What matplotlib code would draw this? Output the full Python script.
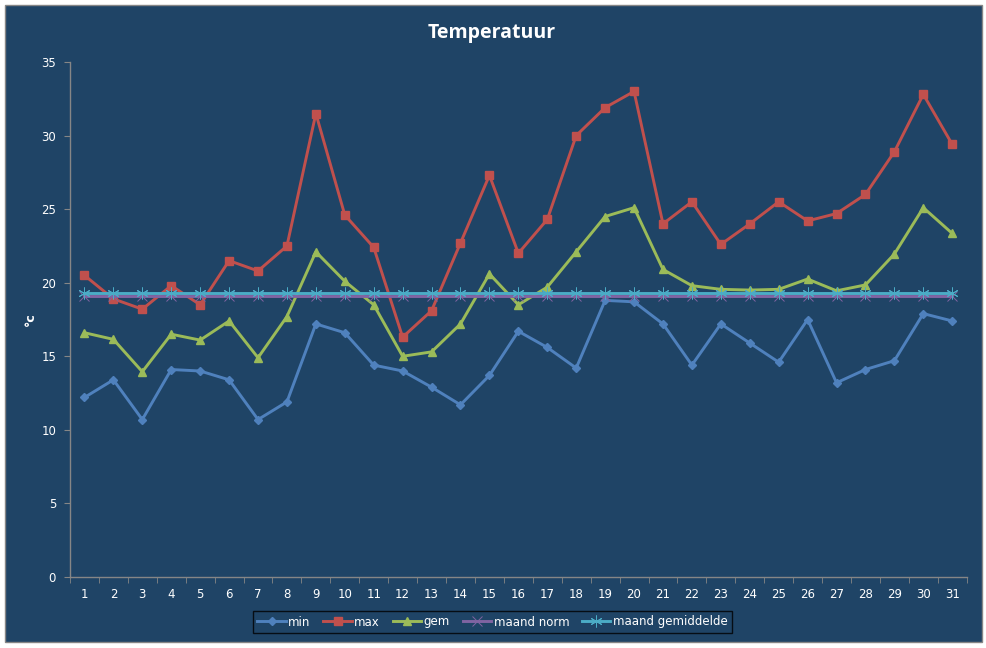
import numpy as np
import matplotlib
matplotlib.use("Agg")
import matplotlib.pyplot as plt
from matplotlib.patches import Rectangle

# data
days = list(range(1, 32))
t_min = [12.2, 13.4, 10.7, 14.1, 14.0, 13.4, 10.7, 11.9, 17.2, 16.6,
         14.4, 14.0, 12.9, 11.7, 13.7, 16.7, 15.6, 14.2, 18.8, 18.7,
         17.2, 14.4, 17.2, 15.9, 14.6, 17.5, 13.2, 14.1, 14.7, 17.9, 17.4]
t_max = [20.5, 18.9, 18.2, 19.8, 18.5, 21.5, 20.8, 22.5, 31.5, 24.6,
         22.4, 16.3, 18.1, 22.7, 27.3, 22.0, 24.3, 30.0, 31.9, 33.0,
         24.0, 25.5, 22.6, 24.0, 25.5, 24.2, 24.7, 26.0, 28.9, 32.8, 29.4]
t_gem = [16.6, 16.15, 13.95, 16.5, 16.1, 17.4, 14.9, 17.7, 22.1, 20.1,
         18.5, 15.0, 15.3, 17.2, 20.6, 18.5, 19.7, 22.1, 24.5, 25.1,
         20.9, 19.8, 19.55, 19.5, 19.55, 20.25, 19.45, 19.85, 21.95, 25.1, 23.35]
maand_norm = [19.1] * 31
maand_gem = [19.3] * 31

bg = "#1F4466"
grey = "#868686"

fig = plt.figure(figsize=(9.87, 6.48), dpi=100)
fig.patch.set_facecolor("white")
# chart area with thin grey border
fig.patches.append(Rectangle((5 / 987, 1 - 642 / 648), 977 / 987, 637 / 648,
                             transform=fig.transFigure, facecolor=bg,
                             edgecolor=grey, linewidth=1.0, zorder=-10))

ax = fig.add_axes([70 / 987, 1 - 577 / 648, 896.7 / 987, 515 / 648])
ax.set_facecolor(bg)

lw = 2.1
ax.plot(days, t_min, color="#4F81BD", lw=lw, marker="D", ms=4.5, label="min", zorder=3)
ax.plot(days, t_max, color="#C0504D", lw=lw, marker="s", ms=6.2, label="max", zorder=3)
ax.plot(days, t_gem, color="#9BBB59", lw=lw, marker="^", ms=6, label="gem", zorder=3)
ax.plot(days, maand_norm, color="#8064A2", lw=lw, marker="x", ms=6.5, mew=0.7,
        label="maand norm", zorder=4)
ax.plot(days, maand_gem, color="#4BACC6", lw=lw, marker=(6, 2, 0), ms=8.5, mew=0.7,
        label="maand gemiddelde", zorder=5)

ax.set_xlim(0.5, 31.5)
ax.set_ylim(0, 35)
ax.set_yticks(range(0, 36, 5))
ax.set_xticks(days)
ax.set_xticks(np.arange(0.5, 32, 1), minor=True)
ax.tick_params(axis="x", which="major", length=0, pad=8, labelsize=8.5, colors="white")
ax.tick_params(axis="x", which="minor", length=4, color=grey, direction="out")
ax.tick_params(axis="y", length=4, color=grey, labelsize=8.5, labelcolor="white", pad=6)

for s in ["top", "right"]:
    ax.spines[s].set_visible(False)
for s in ["left", "bottom"]:
    ax.spines[s].set_color(grey)
    ax.spines[s].set_linewidth(1.0)

fig.text(30 / 987, 1 - 319 / 648, "°c", color="white", fontsize=9,
         fontweight="bold", rotation=90, ha="center", va="center")
fig.text(492 / 987, 1 - 33 / 648, "Temperatuur", color="white", fontsize=14,
         fontweight="bold", ha="center", va="center", family="Open Sans")

leg = ax.legend(loc="center", bbox_to_anchor=(492.5 / 987, 1 - 622 / 648),
                bbox_transform=fig.transFigure, ncol=5, frameon=True,
                fancybox=False, fontsize=8.5, handlelength=2.4, columnspacing=1.1,
                handletextpad=0.2, borderpad=0.35, labelcolor="white")
leg.get_frame().set_facecolor(bg)
leg.get_frame().set_edgecolor("black")
leg.get_frame().set_linewidth(1.0)

fig.savefig("out.png", dpi=100, facecolor=fig.get_facecolor())
